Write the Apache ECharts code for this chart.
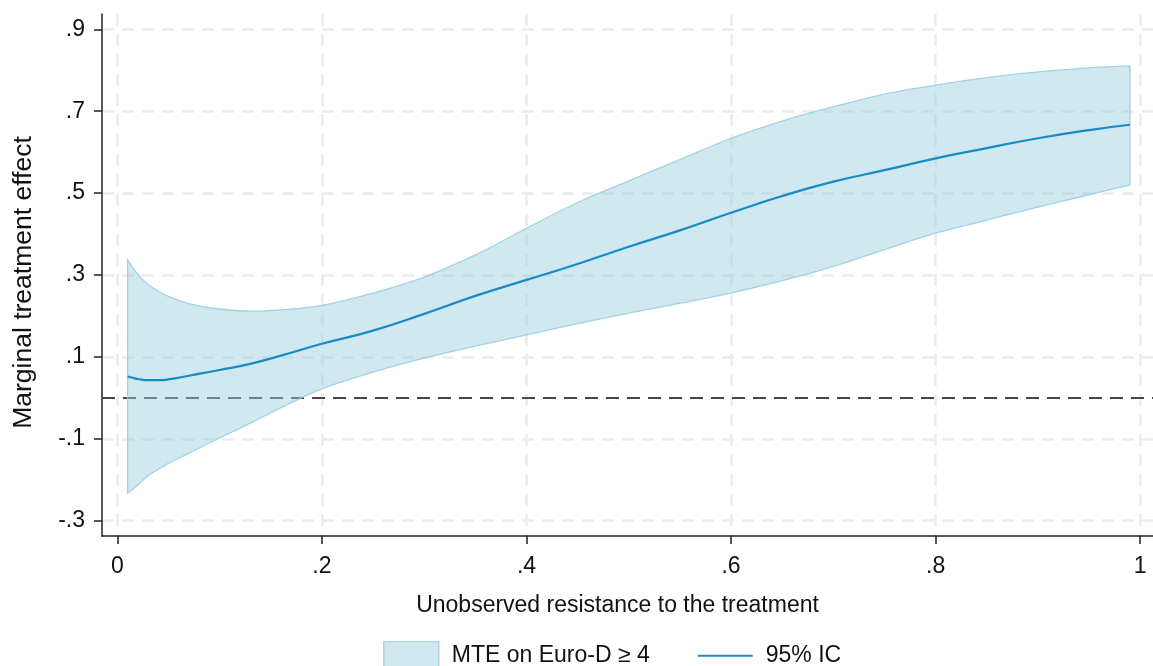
<!DOCTYPE html>
<html>
<head>
<meta charset="utf-8">
<script src="https://cdn.jsdelivr.net/npm/echarts@6/dist/echarts.min.js"></script>
<style>
  html, body { margin: 0; padding: 0; background: #fff; }
  #main { width: 1153px; height: 666px; }
</style>
</head>
<body>
<div id="main"></div>
<script>
var myChart = echarts.init(document.getElementById("main"));

// values
const uGrid = [0.01, 0.015, 0.02, 0.03, 0.04, 0.05, 0.07, 0.1, 0.13, 0.16, 0.2, 0.25, 0.3, 0.35,
  0.4, 0.45, 0.5, 0.55, 0.6, 0.65, 0.7, 0.75, 0.8, 0.85, 0.9, 0.95, 0.99];
const upper = [0.337, 0.318, 0.302, 0.277, 0.261, 0.248, 0.23, 0.217, 0.212, 0.215, 0.226, 0.256, 0.295, 0.349,
  0.414, 0.477, 0.53, 0.582, 0.634, 0.676, 0.711, 0.742, 0.764, 0.782, 0.796, 0.806, 0.811];
const lower = [-0.233, -0.223, -0.213, -0.19, -0.175, -0.16, -0.135, -0.098, -0.062, -0.024, 0.022, 0.063, 0.097, 0.126,
  0.154, 0.181, 0.207, 0.231, 0.256, 0.286, 0.321, 0.362, 0.402, 0.434, 0.466, 0.496, 0.52];
const mte = [0.052, 0.049, 0.046, 0.043, 0.043, 0.045, 0.054, 0.068, 0.083, 0.103, 0.132, 0.164, 0.205, 0.249,
  0.288, 0.327, 0.369, 0.409, 0.452, 0.493, 0.528, 0.556, 0.585, 0.61, 0.634, 0.654, 0.667];

const xTicks = [0, 0.2, 0.4, 0.6, 0.8, 1];
const yTicks = [-0.3, -0.1, 0.1, 0.3, 0.5, 0.7, 0.9];

const FONT = "'Liberation Sans', Arial, sans-serif";

// stata style: no leading zero
function fmt(v) {
  var s = String(+(+v).toFixed(2));
  return s.replace(/^(-?)0\./, "$1.");
}

var bandData = uGrid.map(function (x, i) {
  return [x, lower[i], upper[i]];
});
var lineData = uGrid.map(function (x, i) {
  return [x, mte[i]];
});

// smooth edge through pixel points (catmull-rom -> bezier)
function curve(p, first) {
  var d = first ? "M" + p[0][0] + "," + p[0][1] : "L" + p[0][0] + "," + p[0][1];
  for (var i = 0; i < p.length - 1; i++) {
    var a = p[Math.max(i - 1, 0)], b = p[i], c = p[i + 1], e = p[Math.min(i + 2, p.length - 1)];
    var c1x = b[0] + (c[0] - a[0]) / 6, c1y = b[1] + (c[1] - a[1]) / 6;
    var c2x = c[0] - (e[0] - b[0]) / 6, c2y = c[1] - (e[1] - b[1]) / 6;
    d += "C" + c1x + "," + c1y + "," + c2x + "," + c2y + "," + c[0] + "," + c[1];
  }
  return d;
}

option = {
  animation: false,
  grid: { left: 102, right: 0, top: 14, bottom: 130, outerBoundsMode: "none", containLabel: false },
  legend: {
    left: 383,
    top: 641,
    padding: 0,
    itemWidth: 55,
    itemHeight: 28,
    itemGap: 48,
    textStyle: { fontFamily: FONT, fontSize: 23, color: "#111", padding: [0, 0, 0, 8] },
    data: [
      {
        name: "MTE on Euro-D ≥ 4",
        icon: "rect",
        itemStyle: { color: "#d0e8f0", borderColor: "#aed6e5", borderWidth: 1.5 },
      },
      {
        name: "95% IC",
        icon: "path://M0,0H55V2.2H0Z",
        itemStyle: { color: "#1a8ac3" },
      },
    ],
  },
  xAxis: {
    type: "value",
    min: -0.015,
    max: 1.0125,
    name: "Unobserved resistance to the treatment",
    nameLocation: "middle",
    nameGap: 58,
    nameTextStyle: { fontFamily: FONT, fontSize: 23, color: "#111", padding: [0, 20, 0, 0] },
    axisLine: { onZero: false, lineStyle: { color: "#222", width: 1.5 } },
    axisTick: { length: 8, lineStyle: { color: "#222", width: 1.5 }, customValues: xTicks },
    axisLabel: {
      customValues: xTicks,
      margin: 19,
      fontFamily: FONT,
      fontSize: 23,
      color: "#111",
      formatter: fmt,
    },
    splitLine: { show: true, lineStyle: { color: "#ebebeb", width: 2.5, type: [12, 8] } },
  },
  yAxis: {
    type: "value",
    min: -0.3375,
    max: 0.9375,
    name: "Marginal treatment effect",
    nameLocation: "middle",
    nameRotate: 90,
    nameGap: 65,
    nameTextStyle: { fontFamily: FONT, fontSize: 26.5, color: "#111", padding: [0, 15, 0, 0] },
    axisLine: { show: true, onZero: false, lineStyle: { color: "#222", width: 1.5 } },
    axisTick: { show: true, length: 8, lineStyle: { color: "#222", width: 1.5 }, customValues: yTicks },
    axisLabel: {
      customValues: yTicks,
      margin: 17,
      fontFamily: FONT,
      fontSize: 23,
      color: "#111",
      formatter: fmt,
    },
    splitLine: { show: true, lineStyle: { color: "#ebebeb", width: 2.5, type: [12, 8] } },
  },
  series: [
    {
      name: "MTE on Euro-D ≥ 4",
      type: "custom",
      z: 2,
      data: bandData,
      encode: { x: 0, y: [1, 2] },
      renderItem: function (params, api) {
        if (params.dataIndex !== 0) return null;
        var top = bandData.map(function (d) { return api.coord([d[0], d[2]]); });
        var bot = bandData.map(function (d) { return api.coord([d[0], d[1]]); }).reverse();
        var path = curve(top, true) + curve(bot, false) + "Z";
        return {
          type: "path",
          shape: { pathData: path, layout: "cover" },
          style: { fill: "rgba(150,205,222,0.45)", stroke: "rgba(150,205,222,0.85)", lineWidth: 1.3 },
        };
      },
    },
    {
      name: "95% IC",
      type: "line",
      z: 3,
      data: lineData,
      smooth: true,
      symbol: "none",
      color: "#1a8ac3",
      lineStyle: { width: 2.2, color: "#1a8ac3" },
      markLine: {
        z: 1,
        silent: true,
        symbol: "none",
        label: { show: false },
        lineStyle: { color: "#474747", width: 1.8, type: [13, 8] },
        data: [{ yAxis: 0 }],
      },
    },
  ],
};
myChart.setOption(option);
</script>
</body>
</html>
